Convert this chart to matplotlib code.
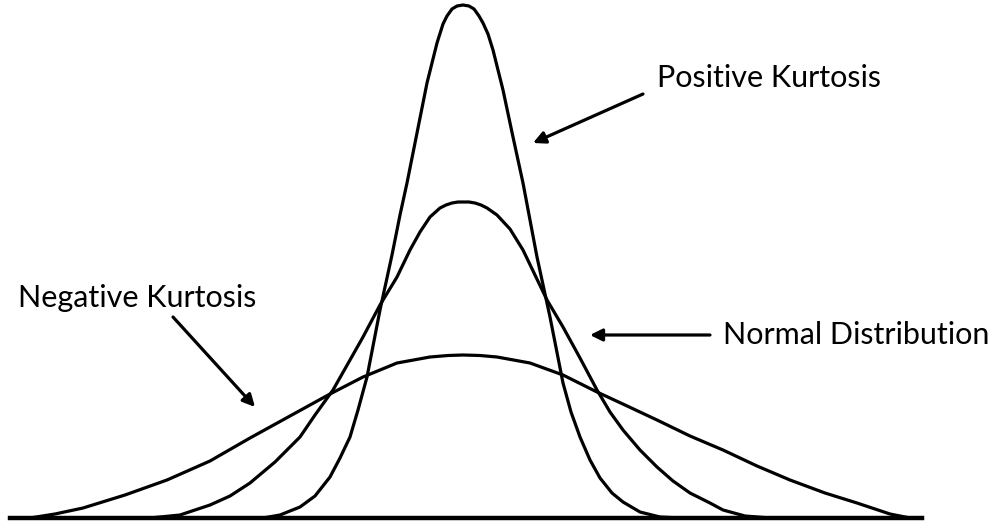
import matplotlib
matplotlib.use("Agg")
import matplotlib.pyplot as plt

# curves: x position and height above the baseline (pixels)
tall_x = [263, 280, 300, 315, 330, 340, 350, 358, 367, 380, 392, 400, 407, 417, 427, 437, 443, 447, 452, 457, 463,
          469, 474, 479, 483, 488, 493, 503, 513, 523, 530, 537, 550, 563, 571, 580, 590, 600, 612, 623, 640, 660, 680]
tall_h = [0, 3, 11, 22, 41, 60, 81, 108, 141, 208, 263, 303, 335, 385, 435, 475, 494, 502, 509, 512, 513,
          512, 509, 502, 495, 484, 468, 428, 381, 335, 298, 261, 201, 135, 106, 81, 58, 40, 25, 16, 6, 1, 0]

normal_x = [150, 180, 210, 230, 250, 275, 300, 315, 333, 350, 363, 380, 397, 410, 420, 430, 440, 446, 452, 458, 463,
            469, 475, 481, 487, 497, 510, 523, 535, 547, 563, 580, 597, 610, 623, 640, 657, 673, 690, 710, 723, 745, 770]
normal_h = [0, 3, 13, 22, 35, 56, 81, 103, 128, 158, 181, 213, 241, 268, 286, 301, 310, 313, 315, 316, 316,
            316, 315, 313, 310, 303, 289, 268, 243, 218, 191, 160, 128, 106, 88, 68, 51, 37, 25, 15, 8, 2, 0]

flat_x = [30, 55, 83, 125, 167, 210, 250, 290, 330, 363, 397, 430, 448, 463,
          480, 497, 530, 563, 597, 625, 657, 690, 723, 757, 790, 825, 857, 890, 910]
flat_h = [0, 4, 10, 23, 38, 57, 80, 102, 124, 141, 155, 161, 162.5, 163,
          162.5, 161, 155, 143, 126, 113, 98, 82, 68, 52, 38, 25, 15, 4, 0]

labels = ["Positive Kurtosis", "Normal Distribution", "Negative Kurtosis"]

fig = plt.figure(figsize=(10.01, 5.25), dpi=100)
ax = fig.add_axes([0, 0, 1, 1])
ax.set_xlim(0, 1001)
ax.set_ylim(-7, 518)
ax.axis("off")

lw = 2.3
ax.plot(tall_x, tall_h, color="black", lw=lw, solid_capstyle="round", solid_joinstyle="round")
ax.plot(normal_x, normal_h, color="black", lw=lw, solid_capstyle="round", solid_joinstyle="round")
ax.plot(flat_x, flat_h, color="black", lw=lw, solid_capstyle="round", solid_joinstyle="round")
ax.plot([10, 922], [0, 0], color="black", lw=3.2)

font = dict(family=["Lato", "DejaVu Sans"], fontsize=22, color="black", va="center", ha="left")
arrow = dict(arrowstyle="-|>", color="black", lw=2.3, mutation_scale=18, shrinkA=0, shrinkB=0)

ax.text(657, 440, labels[0], **font)
ax.annotate("", xy=(533, 375), xytext=(643, 424), arrowprops=arrow)

ax.text(723, 183, labels[1], **font)
ax.annotate("", xy=(590, 183), xytext=(710, 183), arrowprops=arrow)

ax.text(18, 220, labels[2], **font)
ax.annotate("", xy=(255, 111), xytext=(173, 201), arrowprops=arrow)

fig.savefig("out.png", dpi=100)
